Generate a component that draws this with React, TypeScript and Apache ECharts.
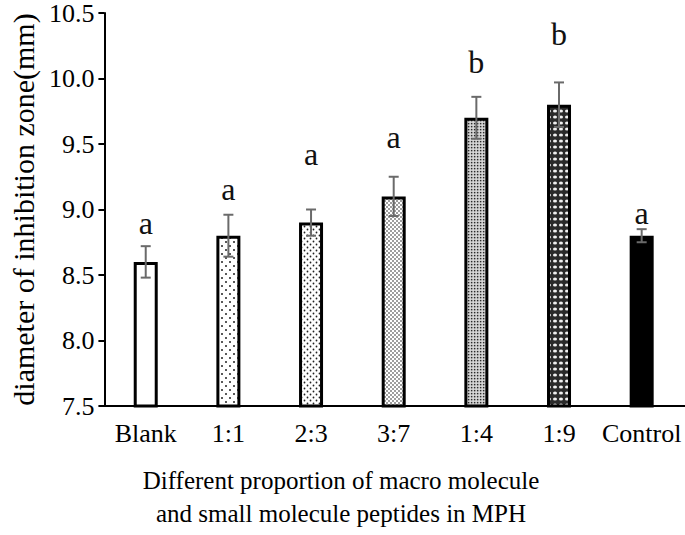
import React, { useEffect, useRef } from "react";
import * as echarts from "echarts";

const categories = ["Blank", "1:1", "2:3", "3:7", "1:4", "1:9", "Control"];
const values = [8.6, 8.8, 8.9, 9.1, 9.7, 9.8, 8.8];
const errors = [0.12, 0.16, 0.1, 0.15, 0.16, 0.17, 0.05];
const letters = ["a", "a", "a", "a", "b", "b", "a"];
const letterY = [8.82, 9.08, 9.35, 9.48, 10.05, 10.26, 8.9];
const fills = ["white", "dots8", "dots6", "dots4", "dots3", "cross", "black"];

const FONT = "'Liberation Serif', 'Times New Roman', serif";

function makePattern(kind: string): any {
  if (kind === "white") return "#ffffff";
  if (kind === "black") return "#000000";
  const c = document.createElement("canvas");
  let s = 8;
  if (kind === "dots8") s = 8;
  if (kind === "dots6") s = 6;
  if (kind === "dots4") s = 4;
  if (kind === "dots3") s = 3;
  if (kind === "cross") s = 6;
  c.width = s;
  c.height = s;
  const ctx = c.getContext("2d")!;
  ctx.fillStyle = "#ffffff";
  ctx.fillRect(0, 0, s, s);
  if (kind === "cross") {
    ctx.fillStyle = "#2a2a2a";
    ctx.fillRect(0, 0, s, s);
    ctx.fillStyle = "#f0f0f0";
    ctx.beginPath();
    ctx.ellipse(s / 2, s / 2, 2.0, 1.6, 0, 0, Math.PI * 2);
    ctx.fill();
    return { image: c, repeat: "repeat" };
  }
  ctx.fillStyle = "#222222";
  if (kind === "dots3") {
    ctx.fillStyle = "#c4c4c4";
    ctx.fillRect(0, 0, s, s);
    ctx.fillStyle = "#2a2a2a";
    ctx.fillRect(0, 0, 1.3, 1.3);
    ctx.fillStyle = "#ffffff";
    ctx.fillRect(1.6, 1.6, 1, 1);
    return { image: c, repeat: "repeat" };
  }
  const r = kind === "dots8" ? 1.0 : kind === "dots6" ? 0.9 : 0.8;
  const pts = [
    [s / 4, s / 4],
    [(3 * s) / 4, (3 * s) / 4],
  ];
  for (const [x, y] of pts) {
    ctx.beginPath();
    ctx.arc(x, y, r, 0, Math.PI * 2);
    ctx.fill();
  }
  return { image: c, repeat: "repeat" };
}

export default function App() {
  const ref = useRef<HTMLDivElement>(null);
  useEffect(() => {
    document.body.style.margin = "0";
    const chart = echarts.init(ref.current!, null, { renderer: "svg" });
    const barData = values.map((v, i) => ({
      value: v,
      itemStyle: {
        color: makePattern(fills[i]),
        borderColor: "#000",
        borderWidth: 3,
      },
    }));
    const errData = values.map((v, i) => [i, v, errors[i], letterY[i]]);
    chart.setOption({
      animation: false,
      grid: { left: 97, right: 2, top: 11, bottom: 129 },
      xAxis: {
        type: "category",
        data: categories,
        axisLine: { lineStyle: { color: "#000", width: 2 } },
        axisTick: { show: false },
        axisLabel: { color: "#000", fontFamily: FONT, fontSize: 26, margin: 14, interval: 0 },
      },
      yAxis: {
        type: "value",
        min: 7.5,
        max: 10.5,
        interval: 0.5,
        name: "diameter of inhibition zone(mm)",
        nameLocation: "middle",
        nameGap: 66,
        nameTextStyle: { color: "#000", fontFamily: FONT, fontSize: 30 },
        splitLine: { show: false },
        axisLine: { show: true, lineStyle: { color: "#000", width: 2 } },
        axisTick: { show: true, inside: false, length: 6, lineStyle: { color: "#000", width: 2 } },
        axisLabel: {
          color: "#000",
          fontFamily: FONT,
          fontSize: 26,
          margin: 10,
          formatter: (v: number) => v.toFixed(1),
        },
      },
      graphic: [
        {
          type: "line",
          shape: { x1: 683, y1: 406, x2: 685, y2: 406 },
          style: { stroke: "#000", lineWidth: 2 },
        },
        {
          type: "text",
          x: 341,
          y: 464,
          style: {
            text: "Different proportion of macro molecule\nand small molecule peptides in MPH",
            fill: "#000",
            font: `25px ${FONT}`,
            align: "center",
            verticalAlign: "top",
            lineHeight: 33,
          },
        },
      ],
      series: [
        {
          type: "bar",
          data: barData,
          barWidth: 24,
          z: 2,
        },
        {
          type: "custom",
          data: errData,
          z: 3,
          renderItem: (params: any, api: any) => {
            const i = api.value(0);
            const v = api.value(1);
            const e = api.value(2);
            const ly = api.value(3);
            const top = api.coord([i, v + e]);
            const bot = api.coord([i, v - e]);
            const lp = api.coord([i, ly]);
            const cap = 5;
            const st = { stroke: "#6a6a6a", lineWidth: 2 };
            return {
              type: "group",
              children: [
                { type: "line", shape: { x1: top[0], y1: top[1], x2: bot[0], y2: bot[1] }, style: st },
                { type: "line", shape: { x1: top[0] - cap, y1: top[1], x2: top[0] + cap, y2: top[1] }, style: st },
                { type: "line", shape: { x1: bot[0] - cap, y1: bot[1], x2: bot[0] + cap, y2: bot[1] }, style: st },
                {
                  type: "text",
                  x: lp[0],
                  y: lp[1] + 6,
                  style: {
                    text: letters[params.dataIndex],
                    fill: "#111",
                    font: `32px ${FONT}`,
                    align: "center",
                    verticalAlign: "bottom",
                  },
                },
              ],
            };
          },
        },
      ],
    });
    return () => chart.dispose();
  }, []);
  return <div ref={ref} style={{ width: 685, height: 535 }} />;
}
